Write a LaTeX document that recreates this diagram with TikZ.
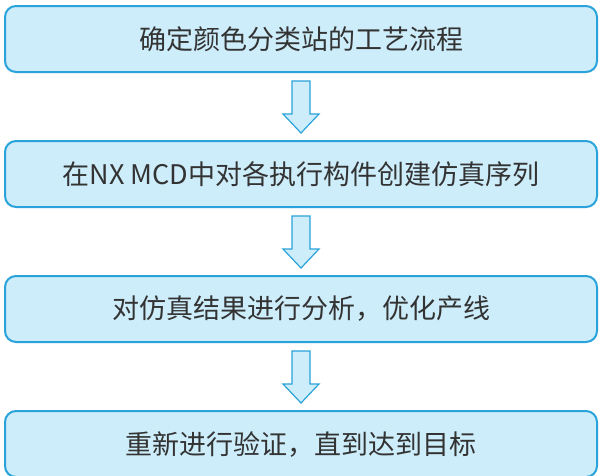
\documentclass[tikz,border=0pt]{standalone}
\usepackage{fontspec}
\setmainfont{Noto Sans CJK SC}
\usepackage{xcolor}
\usetikzlibrary{positioning,calc}
\definecolor{boxline}{HTML}{2AA3DA}
\definecolor{boxfill}{HTML}{CDEDFA}
\definecolor{boxtext}{HTML}{333333}
% hollow down arrow between two boxes
\newcommand{\blockarrow}[2]{%
\draw[arrowbox] ($(#1.south)+(-9,-8)$) -- ($(#2.north)+(-9,26)$) -- ($(#2.north)+(-18,26)$)
  -- ($(#2.north)+(0,7)$) -- ($(#2.north)+(18,26)$) -- ($(#2.north)+(9,26)$)
  -- ($(#1.south)+(9,-8)$) -- cycle;}

\begin{document}
\begin{tikzpicture}[x=1pt, y=1pt, node distance=67pt]
\tikzstyle{stepbox}=[rectangle,rounded corners=11pt,draw=boxline,line width=2pt,fill=boxfill,
  minimum width=592pt,minimum height=66pt,text=boxtext,font=\fontsize{27}{32}\selectfont]
\tikzstyle{arrowbox}=[draw=boxline,line width=1.2pt,fill=boxfill,line join=miter]
\useasboundingbox (0,0) rectangle (602,-475);
\node[stepbox] (s1) at (301,-39) {确定颜色分类站的工艺流程};
\node[stepbox,below=of s1] (s2) {在NX MCD中对各执行构件创建仿真序列};
\node[stepbox,below=of s2] (s3) {对仿真结果进行分析，优化产线};
\node[stepbox,below=of s3] (s4) {重新进行验证，直到达到目标};
\blockarrow{s1}{s2}
\blockarrow{s2}{s3}
\blockarrow{s3}{s4}
\end{tikzpicture}
\end{document}
